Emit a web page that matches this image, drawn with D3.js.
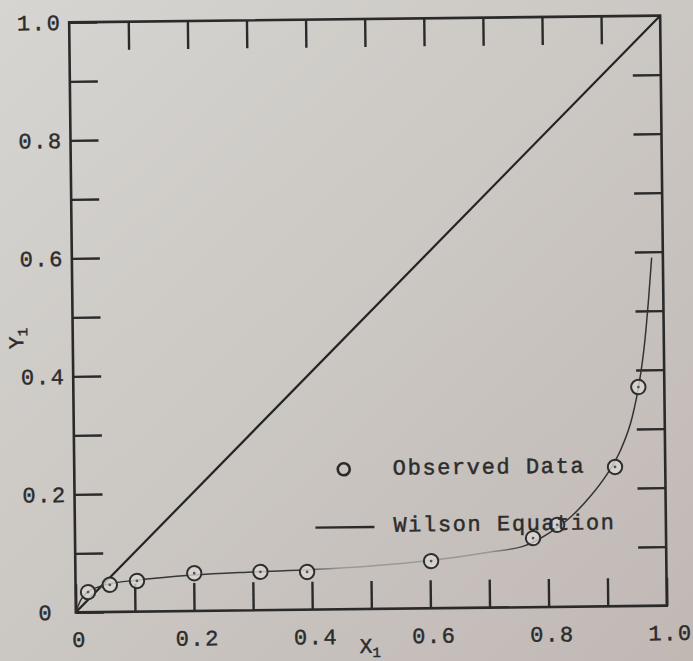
<!DOCTYPE html>
<html>
<head>
<meta charset="utf-8">
<script src="https://cdn.jsdelivr.net/npm/d3@7"></script>
<style>
  html, body { margin: 0; padding: 0; background: #cfccc8; }
  svg { display: block; }
  text { font-family: "Liberation Mono", "DejaVu Sans Mono", monospace; fill: #2c2c2c; stroke: #2c2c2c; stroke-width: 0.45px; }
</style>
</head>
<body>
<svg id="chart" width="693" height="661"></svg>
<script>
// Observed vapour (y1) vs liquid (x1) mole fractions
const obsX = [0.021, 0.058, 0.104, 0.201, 0.313, 0.392, 0.602, 0.775, 0.816, 0.915, 0.956];
const obsY = [0.034, 0.046, 0.052, 0.064, 0.065, 0.064, 0.080, 0.117, 0.139, 0.236, 0.371];

// Wilson equation correlation curve
const wilsonX = [0.0, 0.008, 0.02, 0.04, 0.06, 0.1, 0.2, 0.3, 0.4, 0.5, 0.6, 0.7, 0.76, 0.8, 0.84, 0.872, 0.9, 0.925, 0.945, 0.958, 0.968, 0.975, 0.981];
const wilsonY = [0.0, 0.020, 0.034, 0.043, 0.048, 0.053, 0.061, 0.065, 0.068, 0.073, 0.081, 0.094, 0.104, 0.124, 0.153, 0.186, 0.222, 0.265, 0.320, 0.380, 0.450, 0.520, 0.590];

// Axis ticks and labels
const tickValues = [0, 0.1, 0.2, 0.3, 0.4, 0.5, 0.6, 0.7, 0.8, 0.9, 1.0];
const labelValues = [0, 0.2, 0.4, 0.6, 0.8, 1.0];
const labelText = ["0", "0.2", "0.4", "0.6", "0.8", "1.0"];

const legendItems = ["Observed Data", "Wilson Equation"];

const svg = d3.select("#chart");
const W = 693, H = 661;
const box = { left: 72.5, top: 19, width: 591, height: 590 };

const defs = svg.append("defs");
const bg = defs.append("linearGradient").attr("id", "paper")
  .attr("x1", "0").attr("y1", "0").attr("x2", "1").attr("y2", "1");
bg.append("stop").attr("offset", "0").attr("stop-color", "#d6d5d1");
bg.append("stop").attr("offset", "0.5").attr("stop-color", "#cbc7c3");
bg.append("stop").attr("offset", "1").attr("stop-color", "#c1b8b4");
svg.append("rect").attr("width", W).attr("height", H).attr("fill", "url(#paper)");

const x = d3.scaleLinear().domain([0, 1]).range([box.left, box.left + box.width]);
const y = d3.scaleLinear().domain([0, 1]).range([box.top + box.height, box.top]);

// the sheet sits slightly askew
const cx = box.left + box.width / 2, cy = box.top + box.height / 2;
const g = svg.append("g").attr("transform", `rotate(-0.65 ${cx} ${cy})`);

const fmt = v => { const i = labelValues.findIndex(l => Math.abs(l - v) < 1e-9); return i >= 0 ? labelText[i] : ""; };
const inner = 28;

const styleAxis = sel => {
  sel.select(".domain").remove();
  sel.selectAll(".tick line").attr("stroke", "#2a2a2a").attr("stroke-width", 2.4);
  sel.selectAll(".tick text").attr("font-size", 22).attr("letter-spacing", 1.6).attr("fill", "#2c2c2c");
};

g.append("g").attr("transform", `translate(0,${y(0)})`)
  .call(d3.axisBottom(x).tickValues(tickValues).tickSizeInner(-inner).tickSizeOuter(0).tickPadding(19).tickFormat(fmt))
  .call(styleAxis)
  .call(s => s.selectAll(".tick text").attr("dx", 3));

g.append("g").attr("transform", `translate(0,${y(1)})`)
  .call(d3.axisTop(x).tickValues(tickValues.slice(1, -1)).tickSizeInner(-inner).tickSizeOuter(0).tickFormat(""))
  .call(styleAxis);

g.append("g").attr("transform", `translate(${x(0)},0)`)
  .call(d3.axisLeft(y).tickValues(tickValues).tickSizeInner(-inner).tickSizeOuter(0).tickPadding(10).tickFormat(fmt))
  .call(styleAxis)
  .call(s => s.selectAll(".tick text").attr("text-anchor", "middle").attr("x", -30));

g.append("g").attr("transform", `translate(${x(1)},0)`)
  .call(d3.axisRight(y).tickValues(tickValues.slice(1, -1)).tickSizeInner(-inner).tickSizeOuter(0).tickFormat(""))
  .call(styleAxis);

// plot frame
g.append("rect").attr("x", x(0)).attr("y", y(1))
  .attr("width", x(1) - x(0)).attr("height", y(0) - y(1))
  .attr("fill", "none").attr("stroke", "#2a2a2a").attr("stroke-width", 2.6);

// y = x diagonal
g.append("line").attr("x1", x(0)).attr("y1", y(0)).attr("x2", x(1)).attr("y2", y(1))
  .attr("stroke", "#242424").attr("stroke-width", 2.2);

// Wilson curve, faded through the middle where the print is light
const fade = defs.append("linearGradient").attr("id", "fade")
  .attr("gradientUnits", "userSpaceOnUse")
  .attr("x1", x(0)).attr("y1", 0).attr("x2", x(1)).attr("y2", 0);
[[0, "#333", 1], [0.38, "#3a3a3a", 1], [0.45, "#777", 0.55], [0.7, "#777", 0.55], [0.76, "#333", 1], [1, "#333", 1]]
  .forEach(([o, c, a]) => fade.append("stop").attr("offset", o).attr("stop-color", c).attr("stop-opacity", a));

const wilson = wilsonX.map((v, i) => [v, wilsonY[i]]);
g.append("path").datum(wilson)
  .attr("d", d3.line().x(d => x(d[0])).y(d => y(d[1])).curve(d3.curveMonotoneX))
  .attr("fill", "none").attr("stroke", "url(#fade)").attr("stroke-width", 1.5);

// observed points
const obs = obsX.map((v, i) => [v, obsY[i]]);
const pts = g.append("g").selectAll("g").data(obs).join("g")
  .attr("transform", d => `translate(${x(d[0])},${y(d[1])})`);
pts.append("circle").attr("r", 7.2).attr("fill", "#d9d7d3").attr("fill-opacity", 0.8)
  .attr("stroke", "#2e2e2e").attr("stroke-width", 2);
pts.append("circle").attr("r", 1.4).attr("fill", "#555");

// legend
const lg = g.append("g");
lg.append("circle").attr("cx", 342).attr("cy", 469).attr("r", 6).attr("fill", "none")
  .attr("stroke", "#2a2a2a").attr("stroke-width", 2.6);
lg.append("text").attr("x", 391).attr("y", 475).attr("font-size", 22).attr("letter-spacing", 1.6).text(legendItems[0]);
lg.append("line").attr("x1", 313).attr("x2", 372).attr("y1", 527).attr("y2", 527)
  .attr("stroke", "#2a2a2a").attr("stroke-width", 2.4);
lg.append("text").attr("x", 391).attr("y", 532).attr("font-size", 22).attr("letter-spacing", 1.6).text(legendItems[1]);

// axis titles
const xt = g.append("text").attr("x", 356).attr("y", 653).attr("font-size", 21);
xt.append("tspan").text("X");
xt.append("tspan").attr("font-size", 14).attr("dy", 4).text("1");

const yt = g.append("text").attr("transform", "translate(23,345) rotate(-90)").attr("font-size", 21);
yt.append("tspan").text("Y");
yt.append("tspan").attr("font-size", 14).attr("dy", 4).text("1");
</script>
</body>
</html>
